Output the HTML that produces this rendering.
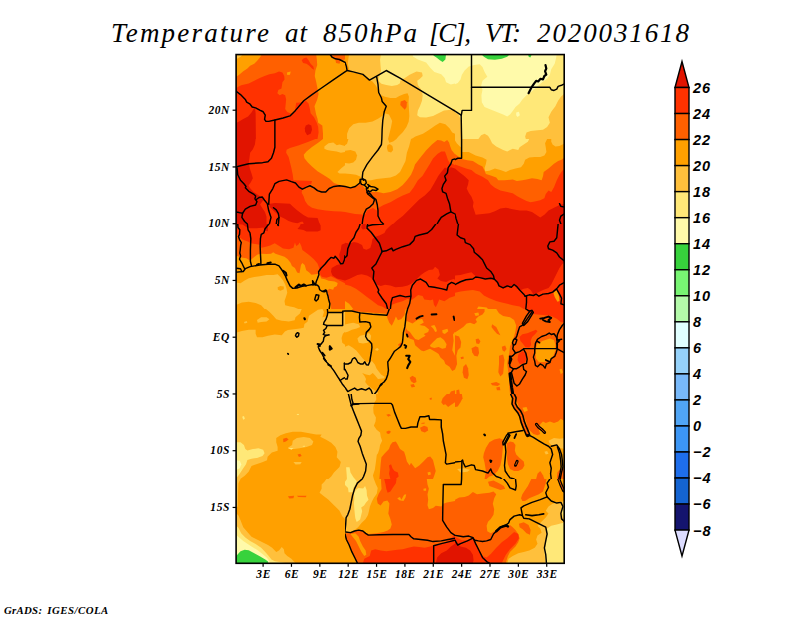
<!DOCTYPE html>
<html><head><meta charset="utf-8"><title>Temperature at 850hPa</title>
<style>
html,body{margin:0;padding:0;background:#fff;}
body{width:800px;height:618px;overflow:hidden;position:relative;font-family:"Liberation Serif",serif;}
svg{position:absolute;left:0;top:0;}
.ttl{font-family:"Liberation Serif",serif;font-style:italic;font-size:27px;fill:#000;}
.ax{font-family:"Liberation Serif",serif;font-style:italic;font-weight:bold;font-size:11.5px;letter-spacing:0.6px;fill:#000;}
.lg{font-family:"Liberation Sans",sans-serif;font-style:italic;font-weight:bold;font-size:14.5px;letter-spacing:1.0px;fill:#000;}
.ft{font-family:"Liberation Serif",serif;font-style:italic;font-weight:bold;font-size:10.8px;fill:#000;}
</style></head><body>
<svg width="800" height="618" viewBox="0 0 800 618">
<defs><clipPath id="mc"><rect x="236.1" y="54.55" width="328.1" height="508.74999999999994"/></clipPath></defs>
<text x="111" y="41.8" class="ttl" textLength="158" lengthAdjust="spacing">Temperature</text>
<text x="285" y="41.8" class="ttl" textLength="22" lengthAdjust="spacing">at</text>
<text x="323" y="41.8" class="ttl" textLength="94" lengthAdjust="spacing">850hPa</text>
<text x="429" y="41.8" class="ttl" textLength="42" lengthAdjust="spacing">[C],</text>
<text x="485" y="41.8" class="ttl" textLength="36" lengthAdjust="spacing">VT:</text>
<text x="537" y="41.8" class="ttl" textLength="152" lengthAdjust="spacing">2020031618</text>
<g clip-path="url(#mc)">
<rect x="236.1" y="54.55" width="328.1" height="508.74999999999994" fill="#ffa000"/>
<defs><clipPath id="t0"><rect x="235" y="54" width="110" height="85"/></clipPath><clipPath id="t1"><rect x="345" y="54" width="110" height="85"/></clipPath><clipPath id="t2"><rect x="455" y="54" width="110" height="85"/></clipPath><clipPath id="t3"><rect x="235" y="139" width="110" height="85"/></clipPath><clipPath id="t4"><rect x="345" y="139" width="110" height="85"/></clipPath><clipPath id="t5"><rect x="455" y="139" width="110" height="85"/></clipPath><clipPath id="t6"><rect x="235" y="224" width="110" height="85"/></clipPath><clipPath id="t7"><rect x="345" y="224" width="110" height="85"/></clipPath><clipPath id="t8"><rect x="455" y="224" width="110" height="85"/></clipPath><clipPath id="t9"><rect x="235" y="309" width="110" height="85"/></clipPath><clipPath id="t10"><rect x="345" y="309" width="110" height="85"/></clipPath><clipPath id="t11"><rect x="455" y="309" width="110" height="85"/></clipPath><clipPath id="t12"><rect x="235" y="394" width="110" height="85"/></clipPath><clipPath id="t13"><rect x="345" y="394" width="110" height="85"/></clipPath><clipPath id="t14"><rect x="455" y="394" width="110" height="85"/></clipPath><clipPath id="t15"><rect x="235" y="479" width="110" height="85"/></clipPath><clipPath id="t16"><rect x="345" y="479" width="110" height="85"/></clipPath><clipPath id="t17"><rect x="455" y="479" width="110" height="85"/></clipPath></defs>
<g clip-path="url(#t0)"><g transform="translate(235,54) scale(0.13750,0.13754)">
<rect x="-5" y="-5" width="810" height="628" fill="#ff6000"/>
<polygon points="0,0 195,0 185,20 160,50 140,70 110,85 90,105 60,125 30,150 10,165 0,168" fill="#ffa000"/>
<polygon points="0,0 60,0 40,20 15,35 0,40" fill="#ffc03c"/>
<polygon points="590,0 800,0 800,618 640,618 640,580 635,520 605,500 600,470 590,440 578,380 598,330 608,290 600,250 590,200 580,160 585,120 598,80 595,40" fill="#ffa000"/>
<polygon points="690,0 800,0 800,40 770,45 760,70 735,65 730,40 700,20" fill="#ff6000"/>
<polygon points="0,262 20,240 45,228 100,215 140,195 180,175 215,160 250,148 290,140 320,128 345,135 358,160 360,185 345,205 338,250 315,262 308,285 325,300 345,290 365,300 372,330 368,370 365,400 380,422 410,435 432,420 440,385 445,355 475,352 515,340 535,360 545,400 550,430 575,460 595,500 605,530 608,570 600,618 0,618" fill="#ff3200"/>
<polygon points="485,45 500,30 520,25 535,45 550,70 570,90 575,115 560,105 540,85 520,70 495,65" fill="#ff3200"/>
<polygon points="378,135 405,128 400,150 380,152" fill="#ffa000"/>
<polygon points="0,505 30,490 60,472 95,455 120,425 135,400 146,395 150,430 152,618 0,618" fill="#e11400"/>
<polygon points="515,520 535,510 555,520 560,550 550,580 525,590 510,565 508,540" fill="#e11400"/>
</g></g>
<g clip-path="url(#t1)"><g transform="translate(345,54) scale(0.13750,0.13754)">
<rect x="-5" y="-5" width="810" height="628" fill="#ffc03c"/>
<polygon points="262,0 800,0 800,400 770,405 720,410 680,430 640,450 590,462 545,460 525,445 530,410 545,380 560,340 565,300 555,260 530,225 525,195 545,180 565,160 560,135 520,128 470,150 430,178 402,195 400,212 380,226 340,232 300,226 265,216 247,200 245,175 255,150 262,120 258,80 255,40" fill="#ffe878"/>
<polygon points="490,0 800,0 800,215 770,222 735,205 725,175 700,148 650,130 620,100 590,62 530,40 495,18" fill="#fffaaa"/>
<polygon points="640,0 735,0 730,40 710,58 690,45 665,25 645,12" fill="#37d23c"/>
<polygon points="0,0 30,0 25,30 20,70 30,110 50,135 100,140 140,150 170,185 200,200 225,230 240,260 245,285 265,300 290,310 330,320 370,320 395,305 430,290 455,285 465,310 462,350 465,400 468,450 463,492 447,531 420,569 387,601 374,618 313,618 324,574 335,531 343,487 320,440 290,430 270,450 240,470 200,490 150,500 100,500 60,510 30,540 15,580 15,618 0,618" fill="#ffa000"/>
<polygon points="480,618 492,612 512,600 567,580 610,552 654,522 690,500 730,510 760,540 780,570 800,580 800,618" fill="#ffa000"/>
<polygon points="405,345 435,335 450,350 448,385 435,405 415,385 402,370" fill="#ff6000"/>
</g></g>
<g clip-path="url(#t2)"><g transform="translate(455,54) scale(0.13750,0.13754)">
<rect x="-5" y="-5" width="810" height="628" fill="#ffe878"/>
<polygon points="0,0 740,0 735,30 725,70 700,110 690,150 670,180 640,200 600,235 560,270 520,300 490,330 470,360 440,385 420,415 400,440 380,455 350,440 300,420 250,400 215,385 195,350 192,300 200,260 190,230 200,195 235,165 215,130 200,95 180,75 140,80 100,90 70,120 50,150 40,185 20,210 0,220" fill="#fffaaa"/>
<polygon points="445,425 465,420 472,445 455,458 445,445" fill="#fffaaa"/>
<polygon points="190,0 400,0 380,20 340,35 290,42 240,38 210,20" fill="#37d23c"/>
<polygon points="530,0 560,0 548,25 536,20" fill="#37d23c"/>
<polygon points="800,285 770,310 750,340 730,380 700,420 680,460 690,500 670,530 640,550 600,555 550,560 520,570 510,600 515,618 800,618" fill="#ffc03c"/>
<polygon points="0,425 25,440 40,470 45,618 0,618" fill="#ffc03c"/>
<polygon points="170,618 190,590 215,580 240,595 255,618" fill="#ffc03c"/>
</g></g>
<g clip-path="url(#t3)"><g transform="translate(235,139) scale(0.13750,0.13754)">
<rect x="-5" y="-5" width="810" height="628" fill="#ff3200"/>
<polygon points="0,0 150,0 145,40 130,75 110,100 105,140 100,175 108,215 120,250 130,285 115,315 98,338 109,356 135,385 158,399 180,416 207,443 182,476 196,498 218,530 229,563 229,618 0,618" fill="#e11400"/>
<polygon points="245,472 291,465 400,471 422,492 454,520 498,552 531,571 601,574 612,607 618,618 500,618 494,601 481,601 454,612 422,607 389,596 362,580 327,563 284,525 256,498" fill="#e11400"/>
<polygon points="585,0 530,22 460,48 400,65 375,78 372,100 390,130 400,170 410,210 420,260 425,300 560,305 555,325 520,340 490,360 485,390 500,420 510,450 530,480 560,500 600,510 660,520 720,525 770,528 800,531 800,0" fill="#ff6000"/>
<polygon points="800,0 800,340 760,335 720,320 690,290 650,265 600,235 560,200 530,170 505,140 500,115 520,90 560,58 605,28 640,0" fill="#ffa000"/>
<polygon points="650,55 680,30 715,25 740,45 760,40 800,50 800,95 770,100 740,90 700,85 670,80 650,70" fill="#ffc03c"/>
<polygon points="745,240 775,210 800,190 800,250 760,250" fill="#ffc03c"/>
</g></g>
<g clip-path="url(#t4)"><g transform="translate(345,139) scale(0.13750,0.13754)">
<rect x="-5" y="-5" width="810" height="628" fill="#ffa000"/>
<polygon points="0,0 480,0 466,54 450,100 440,160 420,200 400,240 370,265 330,280 280,285 230,290 190,300 150,302 125,290 110,272 80,260 40,255 0,250" fill="#ffc03c"/>
<polygon points="313,0 374,0 350,18 322,27" fill="#ffa000"/>
<polygon points="308,45 325,36 345,50 350,80 335,98 312,90 305,65" fill="#ffa000"/>
<polygon points="0,85 40,80 75,90 88,120 80,150 60,170 30,178 0,175" fill="#ffa000"/>
<polygon points="0,0 25,0 15,35 0,45" fill="#ffa000"/>
<polygon points="0,345 40,350 75,345 110,325 125,335 150,365 200,385 240,385 280,395 330,385 380,365 420,335 450,300 480,260 500,215 509,185 547,136 591,82 634,38 672,8 700,11 722,22 743,8 757,25 765,52 776,82 800,110 800,618 0,618" fill="#ff6000"/>
<polygon points="0,618 0,531 73,545 127,549 140,560 160,520 182,511 204,502 230,520 245,500 280,480 330,460 380,430 420,410 470,390 500,350 530,300 563,269 591,224 618,180 640,142 672,109 700,90 727,90 738,120 749,153 765,180 782,180 800,190 800,618" fill="#ff3200"/>
<polygon points="350,618 380,590 420,560 460,520 500,480 540,440 580,410 620,370 650,320 678,269 700,240 727,207 749,218 770,205 800,215 800,618" fill="#e11400"/>
</g></g>
<g clip-path="url(#t5)"><g transform="translate(455,139) scale(0.13750,0.13754)">
<rect x="-5" y="-5" width="810" height="628" fill="#ffc03c"/>
<polygon points="255,0 540,0 530,20 500,40 470,60 460,80 420,70 380,90 350,80 300,55 270,30" fill="#ffe878"/>
<polygon points="0,10 14,33 36,55 51,65 51,94 100,95 150,120 200,135 230,150 225,180 215,210 220,235 250,230 290,215 330,225 370,240 400,225 440,215 480,205 500,180 510,150 540,135 580,130 620,130 650,120 665,95 660,60 655,30 670,0 800,0 800,618 0,618" fill="#ffa000"/>
<polygon points="700,0 800,0 800,30 760,50 730,55 710,40 700,20" fill="#ffc03c"/>
<polygon points="0,109 30,130 51,145 90,155 130,160 170,185 200,200 215,230 225,255 260,265 300,280 315,300 360,300 420,295 450,305 490,300 520,295 560,285 600,290 630,300 640,270 645,240 680,215 720,180 750,160 775,150 800,130 800,618 0,618" fill="#ff6000"/>
<polygon points="0,185 40,200 80,215 120,225 150,250 200,275 240,300 260,330 290,355 330,375 380,385 420,395 450,415 480,430 520,450 550,460 580,455 620,445 650,430 660,400 680,375 700,385 720,350 740,300 760,260 780,230 800,215 800,618 0,618" fill="#ff3200"/>
<polygon points="0,215 30,240 70,270 100,300 95,330 85,360 100,390 120,420 135,460 130,490 140,520 150,550 200,545 250,540 290,525 330,505 370,500 420,510 470,520 520,520 560,530 590,550 620,570 650,550 680,520 720,500 760,480 800,470 800,618 0,618" fill="#e11400"/>
</g></g>
<g clip-path="url(#t6)"><g transform="translate(235,224) scale(0.13750,0.13754)">
<rect x="-5" y="-5" width="810" height="628" fill="#ff3200"/>
<polygon points="0,0 55,4 87,25 109,31 158,31 207,26 218,47 240,53 240,4 243,0" fill="#e11400"/>
<polygon points="478,0 471,16 454,36 498,44 520,55 601,55 623,46 623,11 617,0" fill="#e11400"/>
<polygon points="775,150 769,189 758,222 763,260 771,290 741,298 703,320 698,347 709,374 741,396 785,407 800,410 800,140" fill="#e11400"/>
<polygon points="0,60 16,70 33,96 55,113 98,129 115,140 180,151 191,173 218,167 256,156 289,140 316,156 349,178 393,184 425,173 436,135 445,160 460,150 470,135 482,160 490,189 534,222 572,254 600,287 610,314 616,342 621,369 632,385 665,391 698,380 720,391 752,407 785,423 800,430 800,618 0,618" fill="#ff6000"/>
<polygon points="0,225 16,233 44,244 82,249 109,265 142,238 164,222 191,216 229,219 262,216 278,205 294,216 327,227 360,238 382,254 404,282 414,305 436,320 452,353 469,358 480,298 490,284 507,298 518,336 540,353 556,369 600,363 616,369 627,396 654,402 681,413 725,418 747,429 741,451 720,462 714,478 687,470 670,483 676,523 690,560 700,618 0,618" fill="#ffa000"/>
<polygon points="0,425 40,430 70,410 100,395 140,385 180,380 230,370 280,370 310,365 330,385 350,410 365,440 375,470 380,500 370,530 360,560 365,590 400,600 430,605 460,618 215,618 190,590 150,575 100,565 50,570 0,592" fill="#ffc03c"/>
<polygon points="310,460 330,450 355,455 355,475 330,485 312,478" fill="#ffa000"/>
</g></g>
<g clip-path="url(#t7)"><g transform="translate(345,224) scale(0.13750,0.13754)">
<rect x="-5" y="-5" width="810" height="628" fill="#e11400"/>
<polygon points="0,0 345,0 331,11 298,44 287,65 254,82 222,93 200,109 194,142 184,175 156,188 134,180 124,153 91,136 64,131 36,142 0,136" fill="#ff3200"/>
<polygon points="125,0 150,0 150,35 130,40 118,25" fill="#e11400"/>
<polygon points="0,410 30,400 60,385 90,370 120,365 160,375 190,390 210,420 230,440 260,450 291,441 329,447 367,460 418,457 456,447 481,434 507,415 532,390 552,371 580,350 610,335 640,330 655,310 680,330 690,370 672,396 698,415 736,422 761,409 790,400 800,405 800,618 0,618" fill="#ff3200"/>
<polygon points="0,440 40,450 80,470 120,500 160,530 200,560 240,590 270,600 300,618 0,618" fill="#ff6000"/>
<polygon points="0,560 30,580 60,618 0,618" fill="#ffa000"/>
<polygon points="320,618 330,600 342,587 373,574 418,562 456,543 481,555 507,536 532,517 564,523 577,549 621,555 640,549 647,587 660,606 672,581 685,549 723,562 761,536 800,523 800,618" fill="#ff6000"/>
</g></g>
<g clip-path="url(#t8)"><g transform="translate(455,224) scale(0.13750,0.13754)">
<rect x="-5" y="-5" width="810" height="628" fill="#e11400"/>
<polygon points="0,375 40,370 80,360 120,350 140,370 160,385 200,395 250,400 280,395 300,420 320,450 360,465 400,455 430,440 450,470 480,480 500,470 530,465 550,480 570,510 600,500 640,480 680,465 700,440 720,400 740,360 760,320 780,290 800,280 800,618 0,618" fill="#ff3200"/>
<polygon points="0,500 40,490 80,485 130,480 180,490 210,520 250,540 300,560 340,570 380,580 420,590 470,600 500,618 0,618" fill="#ff6000"/>
<polygon points="715,500 740,480 755,520 760,560 745,565 725,530" fill="#ffa000"/>
<polygon points="160,618 170,600 230,608 240,618" fill="#ffa000"/>
</g></g>
<g clip-path="url(#t9)"><g transform="translate(235,309) scale(0.13750,0.13754)">
<rect x="-5" y="-5" width="810" height="628" fill="#ffc03c"/>
<polygon points="0,175 12,170 50,160 100,150 150,150 150,180 160,205 200,205 240,195 290,185 340,190 363,164 385,153 429,147 472,142 500,136 505,109 527,93 538,49 571,27 603,6 636,0 647,22 636,60 669,52 672,25 783,25 783,16 800,14 800,0 0,0" fill="#ffa000"/>
<polygon points="225,0 250,20 280,50 300,75 340,85 363,87 391,90 434,82 440,60 472,33 483,5 485,0" fill="#ffc03c"/>
<polygon points="160,80 190,60 230,60 250,75 230,90 190,95 165,100" fill="#ffc03c"/>
<polygon points="65,95 85,88 90,100 70,105" fill="#ffc03c"/>
<polygon points="800,165 785,180 775,210 780,245 800,260" fill="#ffa000"/>
</g></g>
<g clip-path="url(#t10)"><g transform="translate(345,309) scale(0.13750,0.13754)">
<rect x="-5" y="-5" width="810" height="628" fill="#ffa000"/>
<polygon points="50,0 60,12 110,20 200,28 300,35 308,65 322,100 340,122 358,85 370,55 385,82 410,72 432,45 442,0" fill="#ff6000"/>
<polygon points="455,0 450,40 445,80 440,130 438,170 445,200 470,215 500,225 510,263 554,302 573,308 618,289 662,314 681,327 694,352 720,375 730,400 760,420 780,450 800,440 800,0" fill="#ff6000"/>
<polygon points="446,85 491,105 529,79 561,73 573,98 542,117 580,124 611,149 605,168 573,181 586,194 554,213 535,225 510,219 491,194 472,168 452,155 440,130" fill="#ffa000"/>
<polygon points="618,263 643,238 669,213 694,206 720,225 739,257 732,283 707,289 681,276 650,283 624,276" fill="#ffa000"/>
<polygon points="624,124 650,117 662,136 669,162 656,168 643,143" fill="#ffa000"/>
<polygon points="707,155 745,143 751,162 726,181 710,175" fill="#ffa000"/>
<polygon points="800,165 785,185 790,230 780,300 800,340" fill="#ffa000"/>
<polygon points="385,260 410,240 420,260 400,280" fill="#ff6000"/>
<polygon points="470,500 490,485 515,500 520,530 500,540 480,525" fill="#ff6000"/>
<polygon points="475,550 500,545 510,565 485,570" fill="#ff6000"/>
<polygon points="770,600 800,590 800,618 760,618" fill="#ff6000"/>
<polygon points="0,274 27,264 54,280 82,302 109,334 131,362 153,384 180,384 196,378 218,405 229,433 245,454 262,476 289,493 284,504 240,509 218,482 202,465 180,482 153,476 125,465 142,487 153,509 147,531 164,553 174,560 190,575 215,590 235,600 240,618 0,618" fill="#ffc03c"/>
<polygon points="0,112 30,105 60,100 100,110 110,130 85,142 50,150 20,165 0,170" fill="#ffc03c"/>
<polygon points="90,215 110,195 150,185 175,175 190,195 185,225 165,245 130,250 100,245" fill="#ffc03c"/>
<polygon points="220,290 235,283 247,292 238,303 222,300" fill="#ffc03c"/>
</g></g>
<g clip-path="url(#t11)"><g transform="translate(455,309) scale(0.13750,0.13754)">
<rect x="-5" y="-5" width="810" height="628" fill="#ff6000"/>
<polygon points="215,0 300,0 320,30 350,50 400,60 430,80 445,120 440,160 430,200 415,240 400,270 395,320 385,360 380,400 385,440 390,480 395,520 395,560 400,618 0,618 0,170 30,150 60,130 85,105 110,100 140,110 160,95 150,75 170,55 200,40 215,20" fill="#ffa000"/>
<polygon points="0,190 30,200 45,240 40,280 20,300 10,340 15,400 0,440" fill="#ff6000"/>
<polygon points="150,220 170,215 185,235 175,255 155,250" fill="#ff6000"/>
<polygon points="120,285 150,270 170,280 175,320 165,345 140,340 125,315" fill="#ff6000"/>
<polygon points="60,420 80,400 95,430 100,480 90,510 65,500 55,460" fill="#ff6000"/>
<polygon points="340,275 365,265 375,290 360,310 345,300" fill="#ff6000"/>
<polygon points="320,340 350,330 360,370 355,420 350,470 330,490 315,460 320,400" fill="#ff6000"/>
<polygon points="260,540 300,530 330,545 310,560 270,555" fill="#ff6000"/>
<polygon points="300,570 325,565 330,590 305,590" fill="#ff6000"/>
<polygon points="40,350 60,345 65,360 45,365" fill="#ff6000"/>
<polygon points="10,590 30,585 35,618 10,618" fill="#ff6000"/>
<polygon points="270,110 300,130 320,170 330,190 305,180 280,150 265,130" fill="#ff6000"/>
<polygon points="140,30 170,25 175,45 150,50" fill="#ffa000"/>
<polygon points="520,0 800,0 800,100 770,95 740,70 700,50 660,45 600,40 550,35 525,20" fill="#ff3200"/>
<polygon points="469,204 490,183 526,176 561,162 589,151 600,162 582,183 561,204 550,232 554,260 540,282 512,278 494,253 476,232" fill="#ff3200"/>
<polygon points="460,330 490,305 515,320 520,360 505,395 470,400 455,370" fill="#ff3200"/>
<polygon points="600,250 640,230 690,215 720,225 730,260 730,300 715,340 690,370 650,385 610,385 590,360 585,320 590,280" fill="#ffa000"/>
<polygon points="760,440 775,435 785,460 770,475" fill="#ffa000"/>
</g></g>
<g clip-path="url(#t12)"><g transform="translate(235,394) scale(0.13750,0.13754)">
<rect x="-5" y="-5" width="810" height="628" fill="#ffc03c"/>
<polygon points="38,618 71,594 99,566 120,524 155,510 198,496 233,481 237,457 268,425 310,412 310,385 300,350 300,320 330,300 370,285 420,275 480,275 540,285 590,295 630,295 620,310 660,330 700,355 730,385 745,420 740,460 770,495 760,530 740,550 720,570 700,600 680,618" fill="#ffa000"/>
<polygon points="420,340 450,320 500,312 545,320 570,345 560,370 520,385 470,395 430,400 390,400 385,390 415,370" fill="#ffc03c"/>
<polygon points="350,325 375,318 390,330 370,345 352,350" fill="#ff6000"/>
<polygon points="455,440 475,435 485,450 465,458" fill="#ff6000"/>
<polygon points="425,495 485,495 475,510 440,512" fill="#ffc03c"/>
<polygon points="52,165 65,160 72,180 60,188" fill="#ffe878"/>
<polygon points="450,145 465,145 465,152 450,152" fill="#ffe878"/>
<polygon points="390,395 425,392 410,405" fill="#ffe878"/>
<polygon points="488,378 508,376 505,386" fill="#ffe878"/>
<polygon points="0,350 40,350 65,370 75,400 90,410 130,400 170,395 205,405 215,430 200,450 160,465 120,470 90,480 80,510 60,540 40,570 20,600 0,610" fill="#ffe878"/>
<polygon points="0,480 35,485 45,510 35,540 0,555" fill="#fffaaa"/>
</g></g>
<g clip-path="url(#t13)"><g transform="translate(345,394) scale(0.13750,0.13754)">
<rect x="-5" y="-5" width="810" height="628" fill="#ffa000"/>
<polygon points="0,0 225,0 228,40 215,60 205,100 208,140 225,170 222,200 210,230 230,260 255,280 260,310 270,340 255,370 250,400 240,430 231,443 224,500 217,549 203,592 210,618 0,618" fill="#ffc03c"/>
<polygon points="8,532 33,532 40,571 61,606 72,618 14,618 12,585" fill="#ffe878"/>
<polygon points="250,618 255,560 260,500 265,460 290,430 320,400 330,370 345,350 370,345 385,370 400,400 430,420 440,450 450,490 470,520 480,500 495,520 510,540 540,520 570,490 600,460 620,455 640,480 650,520 660,560 650,590 640,618" fill="#ff6000"/>
<polygon points="320,520 335,510 345,540 360,560 385,570 390,600 370,618 330,618 320,580 325,550" fill="#ff3200"/>
<polygon points="700,60 710,30 740,0 800,0 800,60 770,80 750,95 730,75 715,80" fill="#ff6000"/>
<polygon points="545,245 575,230 600,240 605,265 580,280 555,270" fill="#ff6000"/>
<polygon points="300,150 320,145 335,155 315,165" fill="#ff6000"/>
<polygon points="300,275 320,265 335,275 320,290 305,288" fill="#ff6000"/>
<polygon points="615,30 630,25 632,40 618,42" fill="#ff6000"/>
<polygon points="555,210 580,208 578,216 556,217" fill="#ff6000"/>
<polygon points="600,570 620,565 625,585 605,590" fill="#ffa000"/>
</g></g>
<g clip-path="url(#t14)"><g transform="translate(455,394) scale(0.13750,0.13754)">
<rect x="-5" y="-5" width="810" height="628" fill="#ffa000"/>
<polygon points="0,0 50,0 55,30 40,60 20,90 0,95" fill="#ff6000"/>
<polygon points="440,0 800,0 800,200 770,180 750,200 720,210 690,200 660,210 640,200 620,220 610,260 620,290 600,300 570,290 550,270 530,250 520,210 505,170 490,140 470,110 455,70 445,40" fill="#ff6000"/>
<polygon points="490,100 520,95 530,120 505,130" fill="#ffa000"/>
<polygon points="210,430 225,390 250,350 285,330 325,322 352,335 350,370 345,420 340,470 330,520 310,560 280,590 250,600 230,618 215,618 225,560 215,500 205,460" fill="#ff6000"/>
<polygon points="375,360 400,345 425,350 440,370 435,410 445,440 470,465 500,490 505,520 490,545 460,560 430,560 400,545 385,510 378,470 380,420" fill="#ff6000"/>
<polygon points="590,618 600,580 620,560 640,590 650,618" fill="#ff6000"/>
<polygon points="740,618 745,570 765,545 800,540 800,618" fill="#ff6000"/>
<polygon points="680,340 720,320 760,325 800,320 800,400 770,395 740,380 700,370 685,355" fill="#ffc03c"/>
<polygon points="15,545 60,540 110,550 90,565 40,570" fill="#ffc03c"/>
<polygon points="650,420 670,415 680,435 660,440" fill="#ffc03c"/>
</g></g>
<g clip-path="url(#t15)"><g transform="translate(235,479) scale(0.13750,0.13754)">
<rect x="-5" y="-5" width="810" height="628" fill="#ffa000"/>
<polygon points="665,0 650,20 630,40 630,70 615,100 640,120 680,150 720,190 760,230 780,270 800,290 800,0" fill="#ffc03c"/>
<polygon points="0,0 40,0 25,30 22,100 20,200 0,210" fill="#ffc03c"/>
<polygon points="0,240 25,265 40,300 60,350 90,385 120,420 160,440 200,460 240,480 270,500 300,530 320,520 340,495 355,510 360,540 380,560 410,580 440,612 0,612" fill="#ffc03c"/>
<polygon points="0,330 25,355 45,395 75,425 110,450 150,472 190,500 220,530 245,560 265,585 290,598 380,612 0,612" fill="#ffe878"/>
<polygon points="0,400 30,425 60,450 90,470 120,490 160,515 200,545 230,570 250,595 252,612 0,612" fill="#fffaaa"/>
<polygon points="0,570 40,525 70,515 100,518 140,540 180,562 220,585 240,600 242,612 0,612" fill="#37d23c"/>
<polygon points="385,125 430,122 425,140 395,142" fill="#ff6000"/>
<polygon points="450,122 520,122 515,132 460,130" fill="#ff6000"/>
</g></g>
<g clip-path="url(#t16)"><g transform="translate(345,479) scale(0.13750,0.13754)">
<rect x="-5" y="-5" width="810" height="628" fill="#ff6000"/>
<polygon points="0,0 262,0 263,30 266,72 245,108 231,143 238,178 259,192 280,164 308,157 323,178 319,221 315,250 330,290 340,330 330,360 310,375 280,385 230,395 170,400 130,380 100,375 70,380 40,392 0,395" fill="#ffa000"/>
<polygon points="0,0 210,0 224,37 238,65 231,108 210,136 196,164 181,200 174,235 167,262 150,290 120,320 95,350 70,370 40,385 0,385" fill="#ffc03c"/>
<polygon points="14,0 72,0 86,16 79,37 61,65 54,97 26,97 22,65 0,44 0,20" fill="#ffe878"/>
<polygon points="97,65 132,69 146,51 157,80 160,122 171,150 153,171 139,193 118,207 125,235 118,262 110,295 85,312 75,285 72,262 68,221 65,178 68,136 65,101 79,80" fill="#ffe878"/>
<polygon points="595,0 800,0 800,160 770,165 740,170 715,180 700,200 660,195 640,210 610,220 600,190 605,150 600,110 610,70 600,40" fill="#ffa000"/>
<polygon points="380,140 400,130 410,150 430,115 445,110 440,135 425,160 395,155" fill="#ffa000"/>
<polygon points="570,70 590,68 590,85 572,85" fill="#ffa000"/>
<polygon points="285,0 375,0 370,30 350,60 330,90 310,100 300,70 295,40" fill="#ff3200"/>
<polygon points="40,400 75,395 100,420 110,450 130,490 150,520 155,550 140,560 120,530 100,490 80,450 55,420" fill="#ffa000"/>
<polygon points="0,395 10,440 30,480 50,530 75,580 90,612 0,612" fill="#ffa000"/>
<polygon points="130,612 140,580 180,560 190,520 220,510 260,520 300,525 340,520 380,515 420,510 460,500 500,490 540,495 580,500 620,490 645,480 700,470 750,450 780,420 800,400 800,612" fill="#ff3200"/>
<polygon points="660,612 670,570 700,540 740,520 770,490 800,470 800,612" fill="#e11400"/>
</g></g>
<g clip-path="url(#t17)"><g transform="translate(455,479) scale(0.13750,0.13754)">
<rect x="-5" y="-5" width="810" height="628" fill="#ffa000"/>
<polygon points="0,150 30,135 70,130 100,120 130,95 160,110 200,105 250,100 280,90 300,110 285,140 275,180 285,220 280,260 260,290 240,310 230,340 235,380 260,395 285,380 310,365 340,355 380,345 400,335 420,350 440,370 460,400 470,430 460,460 440,490 420,510 400,530 385,560 375,590 370,612 0,612" fill="#ff6000"/>
<polygon points="240,20 280,10 320,30 355,50 365,70 330,80 290,65 250,50" fill="#ff6000"/>
<polygon points="480,140 490,110 510,80 530,50 545,20 555,0 665,0 660,30 650,60 640,90 610,110 575,125 540,140 510,160 490,160" fill="#ff6000"/>
<polygon points="465,325 500,315 535,335 550,370 545,405 520,395 492,365 470,350" fill="#ff6000"/>
<polygon points="0,420 50,445 100,445 125,432 150,470 175,520 200,560 230,570 260,545 300,500 340,460 380,430 430,385 460,400 465,430 440,470 400,510 370,550 350,590 340,612 0,612" fill="#ff3200"/>
<polygon points="0,455 40,490 80,500 110,520 130,550 135,590 130,612 0,612" fill="#e11400"/>
<polygon points="640,300 660,280 680,250 660,230 680,200 710,180 740,170 770,165 800,160 800,612 380,612 390,580 420,560 460,540 500,530 540,520 580,500 600,470 590,440 600,410 630,390 620,360 600,340 620,320" fill="#ffc03c"/>
<polygon points="670,360 700,340 740,330 780,320 800,315 800,612 660,612 655,570 650,530 660,480 665,430 670,390" fill="#ffe878"/>
<polygon points="780,200 800,195 800,300 785,280 778,240" fill="#ffe878"/>
</g></g>
<g fill="none" stroke="#000" stroke-width="10.5" stroke-linejoin="round" stroke-linecap="round">
<g clip-path="url(#t0)"><g transform="translate(235,54) scale(0.13750,0.13754)">
<polyline points="0,265 40,295 75,330 85,350 110,365 125,385 150,392 180,408 205,420 220,445 215,475 225,490 245,490 290,480 350,465 400,450 440,410 500,340 560,295 640,240 720,185 800,130"/>
<polyline points="290,480 290,618"/>
<polyline points="690,0 705,22 730,35 760,40 800,60"/>
</g></g>
<g clip-path="url(#t1)"><g transform="translate(345,54) scale(0.13750,0.13754)">
<polyline points="0,60 10,90 15,120 60,130 130,148 150,165 178,190 230,160 300,120 400,175 500,235 600,295 700,355 800,415"/>
<polyline points="15,120 0,130"/>
<polyline points="230,165 240,220 245,280 265,320 270,345 300,380 285,420 275,480 270,550 268,618"/>
</g></g>
<g clip-path="url(#t2)"><g transform="translate(455,54) scale(0.13750,0.13754)">
<polyline points="120,0 120,410 52,410 45,450 48,618"/>
<polyline points="120,242 690,242 700,260 720,265 740,255 750,235 780,225 800,215"/>
<polyline points="0,415 45,445"/>
<polyline points="535,285 555,245 575,215 590,195 605,200 622,180 640,185 650,160 664,150 655,125 664,105 658,80" stroke-width="16"/>
</g></g>
<g clip-path="url(#t3)"><g transform="translate(235,139) scale(0.13750,0.13754)">
<polyline points="290,0 290,60 280,100 265,140 240,165 200,172 100,180 40,195 0,205"/>
<polyline points="15,210 20,260 40,300 65,325 80,345 75,355 100,380 135,400 150,415 145,435 160,455 150,480 110,490 75,510 55,540 50,570 70,600 90,618"/>
<polyline points="155,440 175,425 198,422 215,445 235,470 245,520 262,570 250,618"/>
<polyline points="245,475 250,400 275,360 290,325 320,308 375,297 410,310 440,320 465,350 490,365 520,350 545,340 575,355 600,375 630,385 660,385 685,360 720,345 760,340 800,345"/>
<polyline points="280,500 300,515 315,540 320,570 305,585 300,618"/>
<polyline points="320,570 316,618"/>
<polyline points="0,530 30,535 55,540"/>
</g></g>
<g clip-path="url(#t4)"><g transform="translate(345,139) scale(0.13750,0.13754)">
<polyline points="268,0 265,40 240,80 200,130 160,185 130,240 125,285 135,300"/>
<polyline points="110,295 130,290 150,300 155,320 140,335 120,330 110,310 110,295"/>
<polyline points="140,335 165,360 175,340 165,330 185,345 215,350 240,365 225,375 200,370 180,385 170,375 160,390 185,400 200,420"/>
<polyline points="0,345 40,355 75,345 105,322 115,305"/>
<polyline points="155,360 165,400 190,420 215,440 205,470 180,495 155,510 140,540 130,580 125,618"/>
<polyline points="200,420 225,440 235,480 240,520 240,560 260,600 280,618"/>
<polyline points="800,145 780,150 770,180 750,210 745,245 725,270 735,300 715,330 705,360 710,385 735,395 745,430 760,470 770,530 740,545 700,570 680,600 670,618"/>
<polyline points="770,530 800,545"/>
</g></g>
<g clip-path="url(#t5)"><g transform="translate(455,139) scale(0.13750,0.13754)">
<polyline points="48,0 48,140 20,140 0,150"/>
<polyline points="0,546 8,580 20,618"/>
<polyline points="760,470 770,490 795,495"/>
<polyline points="795,545 770,560 760,590 770,618"/>
</g></g>
<g clip-path="url(#t6)"><g transform="translate(235,224) scale(0.13750,0.13754)">
<polyline points="20,0 22,25 35,42 33,75 25,91 33,113 46,135 41,156 38,189 35,211 41,233 33,255 49,282 60,305 70,325"/>
<polyline points="12,350 60,345 75,325 110,310 180,298 240,292 290,292 320,305 345,340 365,375 380,410 400,450 420,468 450,465 480,455 520,448 565,440 586,442"/>
<polyline points="12,322 40,325 50,345"/>
<polyline points="90,0 95,42 109,64 115,107 112,189 112,271 120,305"/>
<polyline points="247,0 234,15 218,36 210,64 191,75 185,107 183,162 185,216 188,271 188,293"/>
<polyline points="312,0 314,10" stroke-width="14"/>
<polyline points="800,230 796,260 785,287 769,290 758,271 741,249 728,235 720,249 698,243 676,265 654,293 627,320 608,347 610,369 600,396 591,418 586,440"/>
<polyline points="567,442 564,412 578,434 586,442 600,445 610,456 616,478 632,489 654,492 665,483 670,505 676,523 680,545 690,580 685,618"/>
<polyline points="590,515 610,518 605,545 590,560 580,550 585,530 590,515"/>
<polyline points="235,285 260,280" stroke-width="14"/>
<polyline points="160,295 175,290" stroke-width="14"/>
<polyline points="350,340 370,355 375,375" stroke-width="14"/>
<polyline points="440,460 465,440 480,452 500,440 515,448" stroke-width="16"/>
<polyline points="640,490 660,480" stroke-width="12"/>
</g></g>
<g clip-path="url(#t7)"><g transform="translate(345,224) scale(0.13750,0.13754)">
<polyline points="110,0 100,30 80,60 65,100 40,130 20,180 15,230 0,245"/>
<polyline points="165,0 160,30 190,60 220,100 250,140 265,185 270,200"/>
<polyline points="162,15 200,5 280,0"/>
<polyline points="270,200 300,195 340,175 350,195 370,185 420,165 470,150 500,120 510,90 540,80 600,65 630,40 660,0"/>
<polyline points="270,200 250,240 225,290 195,320 210,345 205,400 225,440 245,480 240,495 270,540 300,580 310,618"/>
<polyline points="330,618 335,570 345,535 400,520 440,530 475,525"/>
<polyline points="800,435 775,425 750,440 740,480 700,470 650,460 610,455 590,425 550,400 520,410 490,445 478,480 480,525 470,580 455,618"/>
</g></g>
<g clip-path="url(#t8)"><g transform="translate(455,224) scale(0.13750,0.13754)">
<polyline points="25,0 20,40 15,80 40,100 70,110 75,135 110,150 135,180 140,205 170,230 200,260 215,290 230,320 260,345 280,375 285,400 310,425 320,450 350,465 380,450 410,460 430,440 450,455 470,480 500,510 510,525"/>
<polyline points="0,440 40,420 80,405 130,400 150,385 180,390 220,400 260,395 285,400"/>
<polyline points="510,525 540,515 570,520 590,510 610,525 640,510 680,505 710,495 740,470 760,445 797,425"/>
<polyline points="520,525 520,570 515,618"/>
<polyline points="750,0 745,50 740,100 720,125 690,130 675,160 680,180 710,190 740,210 760,240 797,270"/>
<polyline points="740,475 760,510 775,540 770,580 797,590"/>
</g></g>
<g clip-path="url(#t9)"><g transform="translate(235,309) scale(0.13750,0.13754)">
<polyline points="672,0 674,25 672,44 661,76 647,98 644,112 661,117 669,123 661,142 644,155 652,169 642,185 658,191 685,188 658,194 647,207 642,235 625,256 603,254 614,269 605,275 615,300 635,330 650,360 665,385 690,410 720,450 745,490 765,520 780,545 800,570"/>
<polyline points="674,25 783,25 783,120 669,120"/>
<polyline points="783,25 783,16 800,14"/>
<polyline points="765,520 785,505 800,500"/>
<polyline points="505,68 508,74" stroke-width="16"/>
<polyline points="445,180 455,172 465,178 462,195 450,205 440,195 445,180"/>
<polyline points="384,324 388,328" stroke-width="12"/>
<polyline points="690,272 703,288 690,295 690,272" stroke-width="16"/>
<polyline points="636,318 652,338" stroke-width="14"/>
<polyline points="646,360 660,378" stroke-width="14"/>
<polyline points="678,405 698,415" stroke-width="14"/>
<polyline points="600,255 618,268" stroke-width="14"/>
<polyline points="797,395 797,440" stroke-width="14"/>
</g></g>
<g clip-path="url(#t10)"><g transform="translate(345,309) scale(0.13750,0.13754)">
<polyline points="0,14 50,14 108,28 200,38 305,45 315,20 322,0"/>
<polyline points="108,28 105,60 108,95 150,92 180,100 188,130 175,150 155,170 150,200 164,225 175,231 194,253 196,280 191,318 185,351 180,384 169,408 155,405 144,384 131,400 114,400 93,389 82,367 71,354 55,362 44,389 22,400 0,400"/>
<polyline points="455,0 445,40 440,90 435,130 425,170 420,225 417,247 404,274 382,291 360,307 344,334 327,362 311,384 313,416 316,444 311,476 300,509 284,531 262,547 245,575 230,600 215,618"/>
<polyline points="0,438 22,482 16,509 0,509"/>
<polyline points="0,570 20,600 40,590 70,575 90,590 120,580 150,590 175,575 190,590 200,618"/>
<polyline points="445,340 470,340 460,365 475,385 460,410 452,430" stroke-width="15"/>
<polyline points="433,262 445,270 440,282" stroke-width="15"/>
<polyline points="450,185 455,200" stroke-width="14"/>
<polyline points="520,70 545,55 565,50" stroke-width="14"/>
<polyline points="630,40 665,38" stroke-width="14"/>
<polyline points="790,55 796,80" stroke-width="14"/>
<polyline points="258,555 268,545" stroke-width="14"/>
</g></g>
<g clip-path="url(#t11)"><g transform="translate(455,309) scale(0.13750,0.13754)">
<polyline points="515,0 540,15 555,10"/>
<polyline points="560,10 570,25 530,90 500,120 490,105 520,50 545,15 560,10"/>
<polyline points="562,18 525,72 497,112"/>
<polyline points="495,115 470,130 460,160 450,195 440,215"/>
<polyline points="435,215 450,225 440,255 425,265 418,245 425,225 435,215"/>
<polyline points="425,265 420,290 440,320 470,310 500,290"/>
<polyline points="500,288 735,288"/>
<polyline points="800,100 780,120 760,150 745,185 740,220 745,260 740,288 770,305 800,320"/>
<polyline points="440,320 420,340 400,350 395,385"/>
<polyline points="400,345 410,365 398,395" stroke-width="16"/>
<polyline points="500,295 515,320 525,365 520,395 490,405 470,420 445,435 425,435 400,420 395,390"/>
<polyline points="425,435 410,460 420,500 430,540 450,560 470,545 490,510 510,480 520,455 500,440 495,410"/>
<polyline points="400,470 405,520 412,570 420,618" stroke-width="22"/>
<polyline points="580,290 585,250 600,220 630,200 660,190 685,175 700,185 720,180 735,200 745,225 760,230 740,250 745,290 735,320 725,345 700,360 690,390 665,400 655,430 640,410 620,400 600,420 585,410 580,380 570,350 580,320 580,290"/>
<polyline points="620,70 650,65 680,55 700,65 680,80 690,95 660,90 640,80" stroke-width="14"/>
<polyline points="600,235 615,245" stroke-width="12"/>
<polyline points="660,370 690,385" stroke-width="12"/>
<polyline points="750,225 775,220" stroke-width="12"/>
</g></g>
<g clip-path="url(#t12)"><g transform="translate(235,394) scale(0.13750,0.13754)">
</g></g>
<g clip-path="url(#t13)"><g transform="translate(345,394) scale(0.13750,0.13754)">
<polyline points="25,0 35,40 45,80 60,120 80,170 100,220 120,270 115,300 100,325 95,345 110,380 125,430 140,470 155,510 150,560 135,600 125,618"/>
<polyline points="45,0 50,40 60,70 45,85"/>
<polyline points="55,75 100,72" stroke-width="13"/>
<polyline points="45,85 60,72 100,70 200,68 335,68 345,80 360,130 380,180 400,230 410,250 440,250 480,240 525,240 530,210 545,165 580,165 610,158 615,185 650,185 700,188 700,240 710,290 715,340 725,390 735,440 730,500 740,510 800,500"/>
</g></g>
<g clip-path="url(#t14)"><g transform="translate(455,394) scale(0.13750,0.13754)">
<polyline points="418,0 432,30 427,70 442,100 467,130 482,160 492,200 507,240 522,275 530,295" stroke-width="36"/>
<polyline points="418,0 432,30 427,70 442,100 467,130 482,160 492,200 507,240 522,275 528,288" stroke-width="13" stroke="#ff6000"/>
<polyline points="385,285 440,275 495,265"/>
<polyline points="385,290 400,300 365,365 350,370 348,350 375,300 385,290"/>
<polyline points="392,296 357,366"/>
<polyline points="445,292 432,320" stroke-width="13"/>
<polyline points="365,370 370,420 365,470 360,520 365,560 385,590 400,610 430,618"/>
<polyline points="530,295 570,315 610,340 650,365 680,380 700,400 710,440 700,470 690,500 700,540 695,580 700,618"/>
<polyline points="700,380 740,370 760,400 775,440 780,480 785,530 775,570 765,618"/>
<polyline points="745,385 760,430 768,480 772,530 765,570 755,618"/>
<polyline points="0,495 45,490 55,480 60,500 75,530 120,515 140,520 150,550 200,560 240,575 260,545 270,570 300,600 330,610 340,618"/>
<polyline points="50,495 48,618"/>
<polyline points="592,220 605,238 635,262 652,280" stroke-width="22"/>
<polyline points="594,222 605,238 635,262 650,278" stroke-width="6" stroke="#ff6000"/>
<polyline points="452,490 440,518" stroke-width="22"/>
<polyline points="451,493 442,514" stroke-width="6" stroke="#ff6000"/>
<polyline points="213,295 218,300" stroke-width="16"/>
<polyline points="255,482 266,486 260,496 255,482" stroke-width="12"/>
</g></g>
<g clip-path="url(#t15)"><g transform="translate(235,479) scale(0.13750,0.13754)">
</g></g>
<g clip-path="url(#t16)"><g transform="translate(345,479) scale(0.13750,0.13754)">
<polyline points="125,0 90,30 70,70 55,120 45,170 35,220 20,260 8,280 5,330 0,380"/>
<polyline points="0,400 10,440 30,480 50,530 75,580 90,612"/>
<polyline points="5,385 40,390 70,378 100,372 130,378 150,395 170,408 250,405 350,403 465,403 480,420 500,435 550,440 600,445 640,455 700,450 750,440 800,430"/>
<polyline points="800,40 715,40 712,170 710,300 740,350 770,390 800,410"/>
<polyline points="645,612 645,485 700,470 760,455 800,445"/>
</g></g>
<g clip-path="url(#t17)"><g transform="translate(455,479) scale(0.13750,0.13754)">
<polyline points="0,40 45,40 48,0"/>
<polyline points="355,0 380,30 400,65 440,80 445,50 440,0"/>
<polyline points="0,410 30,415 60,420 100,415 125,425 145,445 170,450 200,455 230,450 260,440 280,400 300,380 330,350 370,335 390,320 400,295 430,270 470,260 490,265"/>
<polyline points="300,380 330,352 370,338 385,345" stroke-width="18"/>
<polyline points="490,265 480,210 500,195 560,170 620,150 670,130 660,100 680,60 670,30 690,0"/>
<polyline points="670,130 700,160 740,175 770,170 785,200 770,250 775,290 797,310"/>
<polyline points="490,265 500,285 540,290 580,310 620,330 660,350 670,400 660,450 650,500 660,550 665,612"/>
<polyline points="515,260 560,266 610,260 645,254" stroke-width="12"/>
<polyline points="130,425 150,470 175,520 200,570 230,600 250,612"/>
<polyline points="0,445 20,480 40,470 90,450 130,430"/>
<polyline points="755,0 770,40 790,85" stroke-width="24"/>
<polyline points="755,0 770,40 788,80" stroke-width="6" stroke="#ff6000"/>
</g></g>
</g>
</g>
<rect x="236.1" y="54.55" width="328.1" height="508.74999999999994" fill="none" stroke="#000" stroke-width="1.6"/>
<line x1="263.10" y1="563.3" x2="263.10" y2="566.8" stroke="#000" stroke-width="1.2"/>
<text x="263.60" y="577.8" class="ax" text-anchor="middle">3E</text>
<line x1="291.46" y1="563.3" x2="291.46" y2="566.8" stroke="#000" stroke-width="1.2"/>
<text x="291.96" y="577.8" class="ax" text-anchor="middle">6E</text>
<line x1="319.83" y1="563.3" x2="319.83" y2="566.8" stroke="#000" stroke-width="1.2"/>
<text x="320.33" y="577.8" class="ax" text-anchor="middle">9E</text>
<line x1="348.19" y1="563.3" x2="348.19" y2="566.8" stroke="#000" stroke-width="1.2"/>
<text x="348.69" y="577.8" class="ax" text-anchor="middle">12E</text>
<line x1="376.55" y1="563.3" x2="376.55" y2="566.8" stroke="#000" stroke-width="1.2"/>
<text x="377.05" y="577.8" class="ax" text-anchor="middle">15E</text>
<line x1="404.91" y1="563.3" x2="404.91" y2="566.8" stroke="#000" stroke-width="1.2"/>
<text x="405.41" y="577.8" class="ax" text-anchor="middle">18E</text>
<line x1="433.27" y1="563.3" x2="433.27" y2="566.8" stroke="#000" stroke-width="1.2"/>
<text x="433.77" y="577.8" class="ax" text-anchor="middle">21E</text>
<line x1="461.64" y1="563.3" x2="461.64" y2="566.8" stroke="#000" stroke-width="1.2"/>
<text x="462.14" y="577.8" class="ax" text-anchor="middle">24E</text>
<line x1="490.00" y1="563.3" x2="490.00" y2="566.8" stroke="#000" stroke-width="1.2"/>
<text x="490.50" y="577.8" class="ax" text-anchor="middle">27E</text>
<line x1="518.36" y1="563.3" x2="518.36" y2="566.8" stroke="#000" stroke-width="1.2"/>
<text x="518.86" y="577.8" class="ax" text-anchor="middle">30E</text>
<line x1="546.72" y1="563.3" x2="546.72" y2="566.8" stroke="#000" stroke-width="1.2"/>
<text x="547.22" y="577.8" class="ax" text-anchor="middle">33E</text>
<line x1="232.6" y1="110.20" x2="236.1" y2="110.20" stroke="#000" stroke-width="1.2"/>
<text x="230" y="113.90" class="ax" text-anchor="end">20N</text>
<line x1="232.6" y1="166.95" x2="236.1" y2="166.95" stroke="#000" stroke-width="1.2"/>
<text x="230" y="170.65" class="ax" text-anchor="end">15N</text>
<line x1="232.6" y1="223.70" x2="236.1" y2="223.70" stroke="#000" stroke-width="1.2"/>
<text x="230" y="227.40" class="ax" text-anchor="end">10N</text>
<line x1="232.6" y1="280.45" x2="236.1" y2="280.45" stroke="#000" stroke-width="1.2"/>
<text x="230" y="284.15" class="ax" text-anchor="end">5N</text>
<line x1="232.6" y1="337.20" x2="236.1" y2="337.20" stroke="#000" stroke-width="1.2"/>
<text x="230" y="340.90" class="ax" text-anchor="end">EQ</text>
<line x1="232.6" y1="393.95" x2="236.1" y2="393.95" stroke="#000" stroke-width="1.2"/>
<text x="230" y="397.65" class="ax" text-anchor="end">5S</text>
<line x1="232.6" y1="450.70" x2="236.1" y2="450.70" stroke="#000" stroke-width="1.2"/>
<text x="230" y="454.40" class="ax" text-anchor="end">10S</text>
<line x1="232.6" y1="507.45" x2="236.1" y2="507.45" stroke="#000" stroke-width="1.2"/>
<text x="230" y="511.15" class="ax" text-anchor="end">15S</text>
<polygon points="675,87.5 682.0,61.5 689,87.5" fill="#e11400" stroke="#000" stroke-width="1.4" stroke-linejoin="miter"/>
<rect x="675" y="87.50" width="14" height="26.04" fill="#ff3200" stroke="#000" stroke-width="1.4"/>
<rect x="675" y="113.53" width="14" height="26.04" fill="#ff6000" stroke="#000" stroke-width="1.4"/>
<rect x="675" y="139.57" width="14" height="26.04" fill="#ffa000" stroke="#000" stroke-width="1.4"/>
<rect x="675" y="165.61" width="14" height="26.04" fill="#ffc03c" stroke="#000" stroke-width="1.4"/>
<rect x="675" y="191.64" width="14" height="26.04" fill="#ffe878" stroke="#000" stroke-width="1.4"/>
<rect x="675" y="217.68" width="14" height="26.04" fill="#fffaaa" stroke="#000" stroke-width="1.4"/>
<rect x="675" y="243.71" width="14" height="26.04" fill="#37d23c" stroke="#000" stroke-width="1.4"/>
<rect x="675" y="269.75" width="14" height="26.04" fill="#78f573" stroke="#000" stroke-width="1.4"/>
<rect x="675" y="295.78" width="14" height="26.04" fill="#b4faaa" stroke="#000" stroke-width="1.4"/>
<rect x="675" y="321.81" width="14" height="26.04" fill="#e1ffff" stroke="#000" stroke-width="1.4"/>
<rect x="675" y="347.85" width="14" height="26.04" fill="#96d2fa" stroke="#000" stroke-width="1.4"/>
<rect x="675" y="373.88" width="14" height="26.04" fill="#78b9fa" stroke="#000" stroke-width="1.4"/>
<rect x="675" y="399.92" width="14" height="26.04" fill="#50a5f5" stroke="#000" stroke-width="1.4"/>
<rect x="675" y="425.95" width="14" height="26.04" fill="#3c96f5" stroke="#000" stroke-width="1.4"/>
<rect x="675" y="451.99" width="14" height="26.04" fill="#1e6eeb" stroke="#000" stroke-width="1.4"/>
<rect x="675" y="478.02" width="14" height="26.04" fill="#1464d2" stroke="#000" stroke-width="1.4"/>
<rect x="675" y="504.06" width="14" height="26.04" fill="#14146e" stroke="#000" stroke-width="1.4"/>
<polygon points="675,530.10 682.0,556 689,530.10" fill="#dcdcff" stroke="#000" stroke-width="1.4"/>
<text x="693" y="92.90" class="lg">26</text>
<text x="693" y="118.94" class="lg">24</text>
<text x="693" y="144.97" class="lg">22</text>
<text x="693" y="171.01" class="lg">20</text>
<text x="693" y="197.04" class="lg">18</text>
<text x="693" y="223.08" class="lg">16</text>
<text x="693" y="249.11" class="lg">14</text>
<text x="693" y="275.14" class="lg">12</text>
<text x="693" y="301.18" class="lg">10</text>
<text x="693" y="327.21" class="lg">8</text>
<text x="693" y="353.25" class="lg">6</text>
<text x="693" y="379.28" class="lg">4</text>
<text x="693" y="405.32" class="lg">2</text>
<text x="693" y="431.35" class="lg">0</text>
<text x="693" y="457.39" class="lg">−2</text>
<text x="693" y="483.42" class="lg">−4</text>
<text x="693" y="509.46" class="lg">−6</text>
<text x="693" y="535.50" class="lg">−8</text>
<text x="4" y="614.3" class="ft" textLength="38" lengthAdjust="spacing">GrADS:</text>
<text x="47.3" y="614.3" class="ft" textLength="61" lengthAdjust="spacing">IGES/COLA</text>
</svg>
</body></html>
